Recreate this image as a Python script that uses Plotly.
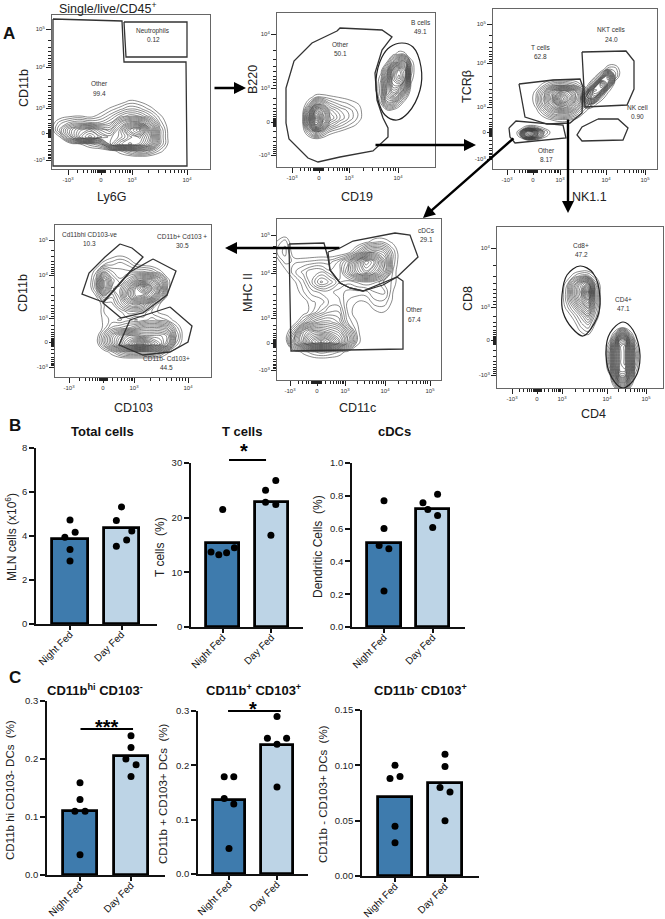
import numpy as np
import plotly.graph_objects as go

W, H = 665, 919
FONT = "Liberation Sans"

groups = ["Night Fed", "Day Fed"]

total_bars = [3.85, 4.35]
total_night_x = [1, 1.1, 0.9, 1, 1]
total_night = [4.73, 4.17, 3.94, 3.39, 2.86]
total_day_x = [2, 1.9, 2.2, 2.1, 1.9]
total_day = [5.32, 4.7, 4.23, 3.82, 3.53]

tcell_bars = [15.3, 22.9]
tcell_night_x = [1, 0.76, 0.92, 1.08, 1.24]
tcell_night = [21.5, 13.7, 13.2, 13.6, 14.5]
tcell_day_x = [2.09, 1.88, 1.88, 2.09, 1.99]
tcell_day = [26.8, 25.0, 22.8, 22.4, 16.8]

cdc_bars = [0.515, 0.72]
cdc_night_x = [1, 1, 0.9, 1.1, 1]
cdc_night = [0.77, 0.60, 0.497, 0.477, 0.22]
cdc_day_x = [1.8, 1.9, 2.1, 2.1, 2]
cdc_day = [0.757, 0.717, 0.81, 0.68, 0.607]

hi_bars = [0.11, 0.205]
hi_night_x = [1, 1, 0.9, 1.1, 1]
hi_night = [0.159, 0.13, 0.11, 0.11, 0.035]
hi_day_x = [2, 2, 1.9, 2.1, 2]
hi_day = [0.24, 0.22, 0.20, 0.19, 0.17]

pos_bars = [0.136, 0.238]
pos_night_x = [0.9, 1.1, 0.9, 1.1, 1]
pos_night = [0.179, 0.179, 0.139, 0.129, 0.047]
pos_day_x = [2, 1.8, 2.2, 2, 2]
pos_day = [0.29, 0.25, 0.25, 0.239, 0.16]

neg_bars = [0.071, 0.0837]
neg_night_x = [1, 0.9, 1.1, 1, 1]
neg_night = [0.10, 0.088, 0.09, 0.045, 0.030]
neg_day_x = [2, 2, 1.9, 2.1, 2]
neg_day = [0.11, 0.099, 0.08, 0.076, 0.05]

# ---- flow panels: gates and density grids are in picture coordinates,
# each panel axis is ranged to its own box
ly6g_other = [[53, 122, 124, 186, 187, 53, 53], [19, 21, 62, 62, 166, 166, 19]]
ly6g_neut = [[124, 187, 187, 126, 124], [22, 22, 57, 57, 22]]
ly6g_x = [50, 60, 70, 80, 90, 100, 110, 120, 130, 140, 150, 160, 170]
ly6g_y = [95, 102, 109, 116, 123, 130, 137, 144, 151, 158]
ly6g_z = [
    [0, 0, 0, 0, 0, 0, 0, 0, 0, 0, 0, 0, 0],
    [0, 0, 0, 0, 0, 0, 0, .6, 1.3, 1, .3, 0, 0],
    [0, 0, 0, 0, 0, .3, 1.2, 2, 2.8, 2.4, 1.4, .3, 0],
    [0, .4, .8, 1, .6, 1.4, 2.5, 4, 5, 4.5, 3, 1.2, 0],
    [.2, 2, 3, 3.5, 3, 3, 4, 7, 9, 9, 6, 2, .2],
    [0, 3, 6, 8, 9, 7, 6, 9, 13, 15, 9, 3, .3],
    [0, 1, 5, 9, 11, 9, 8, 9, 11, 12, 9, 3, .4],
    [0, 0, .4, 1, 2, 3, 8, 11, 12, 11, 8, 3, .4],
    [0, 0, 0, 0, 0, 0, .3, 1.5, 3, 4, 3, 1.3, .2],
    [0, 0, 0, 0, 0, 0, 0, 0, 0, 0, 0, 0, 0],
]

b220_other = [[337, 312, 294, 286, 286, 289, 308, 318, 340, 373, 388, 388, 383, 377, 375, 382, 392, 382, 340, 337],
              [31, 43, 61, 88, 123, 139, 158, 162, 157, 151, 137, 128, 118, 100, 73, 50, 37, 30, 28, 31]]
b220_bcells = [[402, 413, 421, 420, 408, 397, 385, 378, 376, 382, 390, 402],
               [43, 47, 67, 90, 113, 120, 115, 100, 80, 57, 47, 43]]
b220_x = [302, 309, 316, 323, 330, 340, 350, 360, 368]
b220_y = [90, 97, 104, 111, 118, 125, 132, 139, 146]
b220_z = [
    [0, 0, 0, 0, 0, 0, 0, 0, 0],
    [0, .5, 1.5, 1.5, 1.2, .9, .6, .2, 0],
    [0, 2, 6, 5, 3, 2, 1.5, .9, 0],
    [.2, 5, 12, 9, 5, 3.5, 2.5, 1.2, 0],
    [.3, 7, 15, 10, 6, 4, 2.6, 1.2, 0],
    [.2, 6, 13, 8, 4, 2.5, 1.5, .6, 0],
    [0, 2.5, 5, 3, 1.5, .8, .2, 0, 0],
    [0, .2, .8, .4, 0, 0, 0, 0, 0],
    [0, 0, 0, 0, 0, 0, 0, 0, 0],
]
bcell_x = [375, 381, 387, 393, 399, 405, 411, 417]
bcell_y = [46, 54, 62, 70, 78, 86, 94, 102, 110, 118]
bcell_z = [
    [0, 0, 0, 0, 0, 0, 0, 0],
    [0, 0, 0, .6, 1.5, 1.2, 0, 0],
    [0, 0, 1, 4, 7, 7, 1.5, 0],
    [0, .6, 4, 10, 13, 11, 2, 0],
    [0, 1.5, 6, 12, 14, 11, 1.5, 0],
    [0, 2, 7, 11, 11, 7, .8, 0],
    [0, 2, 7, 9, 7, 3, 0, 0],
    [0, 1.2, 5, 5, 2.5, .5, 0, 0],
    [0, .3, 1, .8, 0, 0, 0, 0],
    [0, 0, 0, 0, 0, 0, 0, 0],
]

tcr_tcells = [[519, 553, 580, 583, 582, 570, 547, 525, 519], [84, 80, 79, 87, 113, 123, 124, 117, 84]]
tcr_nkt = [[582, 626, 634, 634, 627, 585, 582], [52, 51, 61, 89, 105, 107, 52]]
tcr_nk = [[598, 618, 628, 623, 582, 577, 582, 598], [119, 119, 128, 140, 141, 135, 127, 119]]
tcr_other = [[509, 516, 563, 566, 515, 510, 509], [128, 121, 125, 138, 143, 137, 128]]
tblob_x = [528, 536, 544, 552, 560, 568, 576, 584, 592]
tblob_y = [78, 85, 92, 99, 106, 113, 120, 127]
tblob_z = [
    [0, 0, 0, 0, 0, 0, 0, 0, 0],
    [0, .3, 1.5, 3, 3.5, 3, 2, .6, 0],
    [0, 1.3, 4, 8, 11, 10, 7, 3, .4],
    [0, 1.7, 5, 9, 15, 12, 8, 4, 1],
    [0, 1.2, 4, 7, 10, 9, 6, 2.5, .6],
    [0, .4, 2, 4, 5, 5, 3, 1, .2],
    [0, 0, .3, 1, 1.3, 1.2, .6, .1, 0],
    [0, 0, 0, 0, 0, 0, 0, 0, 0],
]
nkt_x = [580, 587, 594, 601, 608, 615, 622]
nkt_y = [62, 69, 76, 83, 90, 97, 104, 111]
nkt_z = [
    [0, 0, 0, 0, 0, .2, 0],
    [0, 0, 0, 0, 2, 2, .2],
    [0, 0, .3, 3, 10, 2.5, 0],
    [0, .1, 3, 12, 8, .5, 0],
    [0, 2, 11, 10, 1.5, 0, 0],
    [.3, 7, 9, 2, .2, 0, 0],
    [.2, 3, 1.5, .2, 0, 0, 0],
    [0, 0, 0, 0, 0, 0, 0],
]
otherblob_x = [514, 520, 526, 532, 538, 544, 550, 556]
otherblob_y = [124, 128, 132, 136, 140, 144]
otherblob_z = [
    [0, 0, 0, 0, 0, 0, 0, 0],
    [0, .4, 2, 3, 1.8, .9, .5, 0],
    [0, 2, 11, 14, 7, 2.5, 1, .2],
    [0, 1.5, 9, 11, 5, 1.6, .5, 0],
    [0, 0, .6, 1, .4, 0, 0, 0],
    [0, 0, 0, 0, 0, 0, 0, 0],
]

cd103_hi = [[120, 132, 143, 103, 82, 89, 105, 120], [244, 248, 257, 302, 294, 273, 257, 244]]
cd103_pos = [[153, 176, 167, 143, 121, 103, 130, 153], [259, 271, 295, 313, 318, 303, 272, 259]]
cd103_neg = [[170, 192, 188, 170, 143, 119, 130, 170], [307, 326, 342, 352, 355, 345, 320, 307]]
cd103_x = [88, 96, 104, 112, 120, 128, 136, 144, 152, 160, 168, 176, 184, 192]
cd103_y = [248, 256, 264, 272, 280, 288, 296, 304, 312, 320, 328, 336, 344, 352, 360]
cd103_z = [
    [0, 0, 0, 0, 0, 0, 0, 0, 0, 0, 0, 0, 0, 0],
    [0, 0, 0, .7, 1, .6, 0, 0, 0, 0, 0, 0, 0, 0],
    [0, .3, 1.5, 2, 2.5, 2, 1, .5, .3, 0, 0, 0, 0, 0],
    [0, 1.5, 5, 3.5, 3, 3, 3, 3, 2.5, 1.3, .2, 0, 0, 0],
    [0, 2.5, 9, 5, 3.5, 5, 7, 8, 8, 5, 1.2, 0, 0, 0],
    [0, 2.5, 9, 4.5, 5, 8, 12, 15, 11, 7, 1.2, 0, 0, 0],
    [0, 1, 4, 3, 5, 9, 12, 11, 9, 4.5, .5, 0, 0, 0],
    [0, .1, 1.6, 2, 4, 6, 7, 6, 3, 1, 0, 0, 0, 0],
    [0, 0, 1.6, 2, 2, 3, 3, 2.5, 1.5, .8, .5, 0, 0, 0],
    [0, 0, 1.3, 1.8, 1.5, 2, 1.5, 2, 2.5, 2, 1.5, .6, 0, 0],
    [0, 0, 1.3, 3, 3.5, 4, 5, 6, 6, 6, 5, 2, .3, 0],
    [0, .3, 3, 6, 8, 10, 10, 9, 9, 9, 8, 3, .4, 0],
    [0, .3, 3, 6, 9, 12, 15, 15, 12, 10, 7, 2, .2, 0],
    [0, 0, .4, 1.5, 3, 4, 4, 4, 4, 3, 1.2, .2, 0, 0],
    [0, 0, 0, 0, 0, 0, 0, 0, 0, 0, 0, 0, 0, 0],
]

cd11c_other = [[289, 324, 328, 330, 340, 350, 363, 383, 397, 403, 403, 291, 289],
               [244, 243, 258, 270, 283, 288, 291, 283, 277, 281, 349, 351, 244]]
cd11c_cdc = [[328, 340, 353, 395, 410, 418, 397, 383, 363, 350, 340, 330, 328],
             [252, 248, 241, 233, 235, 257, 277, 285, 291, 288, 283, 270, 252]]
cd11c_x = [276, 285, 294, 303, 312, 321, 330, 339, 348, 357, 366, 375, 384, 393, 402]
cd11c_y = [232, 242, 252, 262, 272, 282, 292, 302, 312, 322, 332, 342, 352, 362]
cd11c_z = [
    [0, 0, 0, 0, 0, 0, 0, 0, 0, 0, 0, 0, 0, 0, 0],
    [1, 2, 0, 0, 0, 0, 0, 0, 0, 0, .8, 1.5, 1.5, .8, 0],
    [1.5, 2.5, .3, 0, 0, 0, 0, 0, .5, 2.5, 5, 6, 5, 2, 0],
    [.3, 1.8, 1.5, 1.6, 1.8, 2, 2, 3, 5, 9, 13, 11, 7, 2, 0],
    [0, .6, 2, 3, 4, 4, 3, 3, 6, 9, 11, 9, 6, 1.5, 0],
    [0, 0, .8, 2, 4, 6, 5, 3.5, 3, 3.5, 4, 3.5, 2, 1.5, 0],
    [0, 0, .3, 1.5, 2.5, 3, 3, 2.5, 2, 2, 2, 2.8, 3, 1, 0],
    [0, 0, 0, .5, 1.5, 1.8, 3, 3, 1.5, 1, 1, 2, 2, .8, 0],
    [0, 0, 0, .4, 1.5, 3, 4, 4, 1.5, .4, .5, .8, 1, .4, 0],
    [0, 0, .3, 2.5, 5, 6, 6, 5, 2, 1, .2, .1, 0, 0, 0],
    [0, 0, 3, 8, 10, 10, 9, 8, 5, 1.3, 0, 0, 0, 0, 0],
    [0, 0, 5, 9, 13, 15, 13, 10, 6, 1.5, 0, 0, 0, 0, 0],
    [0, 0, .3, 1.2, 2, 2.5, 2.2, 1.6, .6, 0, 0, 0, 0, 0, 0],
    [0, 0, 0, 0, 0, 0, 0, 0, 0, 0, 0, 0, 0, 0, 0],
]

cd4_cd8gate = [[580, 593, 600, 597, 583, 572, 563, 562, 567, 580], [266, 273, 298, 318, 336, 328, 312, 295, 275, 266]]
cd4_cd4gate = [[623, 633, 640, 635, 623, 612, 606, 610, 623], [322, 330, 355, 378, 388, 378, 355, 333, 322]]
cd8_x = [560, 567, 574, 581, 588, 595, 602]
cd8_y = [268, 276, 284, 292, 300, 308, 316, 324, 332, 340]
cd8_z = [
    [0, 0, 0, 0, 0, 0, 0],
    [0, .3, 1.5, 2.5, 2.5, 1, 0],
    [0, 1.5, 5, 8, 10, 3, 0],
    [0, 2, 6, 9, 15, 4, 0],
    [0, 2, 5, 8, 11, 4, 0],
    [0, 1.3, 3, 5.5, 8, 3, 0],
    [0, .3, 1.5, 3, 5, 2, 0],
    [0, 0, .6, 2, 3, 1, 0],
    [0, 0, 0, 1, 1.5, .3, 0],
    [0, 0, 0, 0, 0, 0, 0],
]
cd4_x = [605, 610, 615, 620, 625, 630, 635, 640]
cd4_y = [322, 328, 334, 340, 346, 352, 358, 364, 370, 376, 382, 388, 394]
cd4_z = [
    [0, 0, 0, 0, 0, 0, 0, 0],
    [0, 0, 0, 1, 1, 0, 0, 0],
    [0, 0, 2, 6, 6, 2, 0, 0],
    [0, 1, 5, 12, 12, 5, 1, 0],
    [0, 2, 8, 14, 15, 8, 2, 0],
    [.3, 3, 9, 14, 15, 9, 3, .2],
    [.3, 3, 9, 14, 15, 9, 3, .2],
    [.2, 3, 9, 14, 15, 9, 2.5, 0],
    [0, 2, 8, 14, 14, 8, 1.5, 0],
    [0, .8, 6, 12, 12, 6, .8, 0],
    [0, 0, 3, 8, 8, 3, 0, 0],
    [0, 0, 1, 4, 4, 1, 0, 0],
    [0, 0, 0, 0, 0, 0, 0, 0],
]

M = "10<sup>%d</sup>"
N3 = "-10<sup>3</sup>"


def px(x):
    return x / W


def py(y):
    return 1 - y / H


def minor_ticks(major):
    # decade sub ticks plus the black clump round the zero channel
    out = []
    for a, b in zip(major[:-1], major[1:]):
        out += [a + (b - a) * np.log10(k) for k in range(2, 10)]
    return out


def zero_clump(zero):
    return [zero + d for d in (-4, -3, -2, -1, 0, 1, 2, 3, 4)]


fig = go.Figure()
annotations = []
shapes = []
axis_n = 0


def label(x, y, text, size=6.5, color="#333", bold=False, angle=0):
    annotations.append(dict(x=px(x), y=py(y), xref="paper", yref="paper", text=text, showarrow=False,
                            xanchor="center", yanchor="middle", textangle=angle,
                            font=dict(family=FONT, size=size, color=color, weight="bold" if bold else "normal")))


def flow_panel(box, xticks, yticks, gates, blobs, splines=()):
    global axis_n
    axis_n += 1
    n = axis_n
    left, top, right, bottom = box
    common = dict(showgrid=False, zeroline=False, showline=True, mirror=True, linecolor="#666", linewidth=1,
                  automargin=False, ticks="outside", ticklen=5, tickwidth=0.8, tickcolor="#222",
                  tickfont=dict(family=FONT, size=6, color="#333"))
    xv, xt, xzero = xticks
    yv, yt, yzero = yticks
    fig.update_layout(**{
        f"xaxis{n}": dict(domain=[px(left), px(right)], range=[left, right], anchor=f"y{n}", tickmode="array",
                          tickvals=xv, ticktext=xt,
                          minor=dict(tickvals=minor_ticks(xv) + zero_clump(xzero), ticks="outside", ticklen=3,
                                     tickwidth=0.7, tickcolor="#222"), **common),
        f"yaxis{n}": dict(domain=[py(bottom), py(top)], range=[bottom, top], anchor=f"x{n}", tickmode="array",
                          tickvals=yv, ticktext=yt,
                          minor=dict(tickvals=minor_ticks(yv) + zero_clump(yzero), ticks="outside", ticklen=3,
                                     tickwidth=0.7, tickcolor="#222"), **common),
    })
    for bx, by, bz in blobs:
        fig.add_trace(go.Contour(x=bx, y=by, z=bz, xaxis=f"x{n}", yaxis=f"y{n}", showscale=False,
                                 colorscale=[[0, "#3c3c3c"], [1, "#3c3c3c"]], autocontour=False,
                                 contours=dict(coloring="lines", start=1, end=15, size=0.6),
                                 line=dict(width=0.6, smoothing=1.3), hoverinfo="skip"))
    for g in gates:
        fig.add_trace(go.Scatter(x=g[0], y=g[1], xaxis=f"x{n}", yaxis=f"y{n}", mode="lines",
                                 line=dict(color="#333", width=1.3), hoverinfo="skip"))
    for g in splines:
        fig.add_trace(go.Scatter(x=g[0], y=g[1], xaxis=f"x{n}", yaxis=f"y{n}", mode="lines",
                                 line=dict(color="#222", width=1.2, shape="spline"), hoverinfo="skip"))


def bar_panel(left, right, top, bottom, ymax, yvals, yfmt, tick1, spacing, bars, nx, ny, dx, dy, barw=0.68,
              sig=None):
    global axis_n
    axis_n += 1
    n = axis_n
    x0 = 1 - (tick1 - left) / spacing
    x1 = 1 + (right - tick1) / spacing
    axis = dict(showgrid=False, zeroline=False, showline=True, linecolor="#111", linewidth=1.8, ticks="outside",
                automargin=False, tickwidth=1.5, tickcolor="#111", tickmode="array")
    fig.update_layout(**{
        f"xaxis{n}": dict(domain=[px(left), px(right)], range=[x0, x1], anchor=f"y{n}", tickvals=[1, 2],
                          ticktext=groups, tickangle=-45, ticklen=4, ticklabelstandoff=-5,
                          tickfont=dict(family=FONT, size=10, color="#111"), **axis),
        f"yaxis{n}": dict(domain=[py(bottom), py(top)], range=[0, ymax], anchor=f"x{n}", tickvals=yvals,
                          ticktext=[yfmt % v for v in yvals], ticklen=5,
                          tickfont=dict(family=FONT, size=9.5, color="#222"), **axis),
    })
    fig.add_trace(go.Bar(x=[1, 2], y=bars, width=barw, xaxis=f"x{n}", yaxis=f"y{n}",
                         marker=dict(color=["#3e7bad", "#bdd4e6"], line=dict(color="#000", width=2.8))))
    fig.add_trace(go.Scatter(x=nx + dx, y=ny + dy, xaxis=f"x{n}", yaxis=f"y{n}", mode="markers", cliponaxis=False,
                             marker=dict(color="#000", size=7)))
    if sig:
        shapes.append(dict(type="line", xref=f"x{n}", yref="paper", x0=sig[0], x1=sig[1], y0=py(sig[2]), y1=py(sig[2]),
                           line=dict(color="#000", width=2)))


# ---- panel A
flow_panel((52, 15, 210, 169),
           ([68, 101, 132, 187], [N3, "0", M % 3, M % 4], 101),
           ([29, 67, 108, 133, 160], [M % 5, M % 4, M % 3, "0", N3], 133),
           [ly6g_other, ly6g_neut], [(ly6g_x, ly6g_y, ly6g_z)])
flow_panel((277, 13, 435, 167),
           ([292, 319, 349, 398], [N3, "0", M % 3, M % 4], 319),
           ([34, 88, 122, 155], [M % 4, M % 3, "0", N3], 122),
           [b220_other], [(b220_x, b220_y, b220_z), (bcell_x, bcell_y, bcell_z)], [b220_bcells])
flow_panel((493, 9, 657, 169),
           ([507, 533, 560, 606, 645], [N3, "0", M % 3, M % 4, M % 5], 533),
           ([24, 63, 107, 132, 159], [M % 5, M % 4, M % 3, "0", N3], 132),
           [tcr_tcells, tcr_nkt, tcr_nk, tcr_other],
           [(tblob_x, tblob_y, tblob_z), (nkt_x, nkt_y, nkt_z), (otherblob_x, otherblob_y, otherblob_z)])
flow_panel((55, 225, 211, 377),
           ([69, 103, 134, 188], [N3, "0", M % 3, M % 4], 103),
           ([240, 275, 318, 342, 367], [M % 5, M % 4, M % 3, "0", N3], 342),
           [cd103_hi, cd103_pos, cd103_neg], [(cd103_x, cd103_y, cd103_z)])
flow_panel((277, 219, 441, 380),
           ([290, 317, 345, 385, 430], [N3, "0", M % 3, M % 4, M % 5], 317),
           ([235, 273, 318, 343, 370], [M % 5, M % 4, M % 3, "0", N3], 343),
           [cd11c_other, cd11c_cdc], [(cd11c_x, cd11c_y, cd11c_z)])
flow_panel((497, 227, 663, 388),
           ([512, 537, 562, 607, 646], [N3, "0", M % 3, M % 4, M % 5], 537),
           ([248, 307, 340, 375], [M % 4, M % 3, "0", N3], 340),
           [], [(cd8_x, cd8_y, cd8_z), (cd4_x, cd4_y, cd4_z)], [cd4_cd8gate, cd4_cd4gate])

# gate names
for x, y, t in [(153, 31, "Neutrophils"), (153, 40, "0.12"), (99, 83, "Other"), (99, 93, "99.4"),
                (340, 44, "Other"), (340, 54, "50.1"), (421, 22, "B cells"), (421, 31, "49.1"),
                (611, 29, "NKT cells"), (611, 39, "24.0"), (540, 47, "T cells"), (540, 56, "62.8"),
                (637, 108, "NK cell"), (637, 117, "0.90"), (546, 150, "Other"), (546, 159, "8.17"),
                (89, 234, "Cd11bhi CD103-ve"), (89, 243, "10.3"), (182, 236, "CD11b+ Cd103 +"), (182, 245, "30.5"),
                (166, 358, "CD11b- Cd103+"), (166, 367, "44.5"), (426, 230, "cDCs"), (426, 239, "29.1"),
                (414, 309, "Other"), (414, 319, "67.4"), (581, 245, "Cd8+"), (581, 254, "47.2"),
                (623, 299, "CD4+"), (623, 308, "47.1")]:
    label(x, y, t)

# marker names round the dot plots
for x, y, t, a in [(111, 197, "Ly6G", 0), (24, 88, "CD11b", -90), (253, 80, "B220", -90), (357, 197, "CD19", 0),
                   (467, 87, "TCRβ", -90), (589, 197, "NK1.1", 0), (23, 293, "CD11b", -90), (133, 408, "CD103", 0),
                   (248, 293, "MHC II", -90), (357, 408, "CD11c", 0), (468, 299, "CD8", -90), (593, 414, "CD4", 0)]:
    label(x, y, t, size=12.5, color="#222", angle=a)
label(108, 8, "Single/live/CD45<sup>+</sup>", size=12.5, color="#222")

for x, y, t in [(9, 33, "A"), (15, 426, "B"), (15, 677, "C")]:
    label(x, y, t, size=17, color="#111", bold=True)

# arrows between panels: tail then head
for x0, y0, x1, y1 in [(213, 88, 246, 88), (374, 145, 476, 145), (568, 118, 568, 213), (515, 137, 423, 218),
                       (341, 248, 225, 248)]:
    annotations.append(dict(x=px(x1), y=py(y1), xref="paper", yref="paper", ax=x0 - x1, ay=y0 - y1, text="",
                            showarrow=True, arrowhead=2, arrowsize=1, arrowwidth=2.4, arrowcolor="#000", standoff=0))

# ---- panel B
bar_panel(36, 157, 448, 624, 8, [0, 2, 4, 6, 8], "%d", 70, 51.5, total_bars, total_night_x, total_night, total_day_x, total_day)
bar_panel(191, 303, 463, 627, 30, [0, 10, 20, 30], "%d", 222.7, 48.7, tcell_bars, tcell_night_x, tcell_night, tcell_day_x, tcell_day,
          sig=(1.13, 1.89, 460))
bar_panel(352, 465, 463, 627, 1.0, [0, 0.2, 0.4, 0.6, 0.8, 1.0], "%.1f", 384, 48.7, cdc_bars, cdc_night_x, cdc_night, cdc_day_x, cdc_day)

# ---- panel C
bar_panel(47, 165, 701, 875, 0.3, [0, 0.1, 0.2, 0.3], "%.1f", 80, 51, hi_bars, hi_night_x, hi_night, hi_day_x, hi_day,
          sig=(1.01, 2.04, 729))
bar_panel(198, 308, 711, 874, 0.3, [0, 0.1, 0.2, 0.3], "%.1f", 229, 48, pos_bars, pos_night_x, pos_night, pos_day_x, pos_day,
          sig=(0.98, 2.08, 711))
bar_panel(362, 479, 710, 876, 0.15, [0, 0.05, 0.10, 0.15], "%.2f", 395, 50, neg_bars, neg_night_x, neg_night, neg_day_x, neg_day)

for x, y, t in [(102, 431, "Total cells"), (242, 431, "T cells"), (394, 431, "cDCs"),
                (95, 690, "CD11b<sup>hi</sup> CD103<sup>-</sup>"), (253, 690, "CD11b<sup>+</sup> CD103<sup>+</sup>"),
                (421, 690, "CD11b<sup>-</sup> CD103<sup>+</sup>")]:
    label(x, y, t, size=13, color="#111", bold=True)

for x, y, t in [(11, 537, "MLN cells (x10<sup>6</sup>)"), (160, 547, "T cells  (%)"), (318, 547, "Dendritic Cells  (%)")]:
    label(x, y, t, size=12, color="#222", angle=-90)
for x, y, t in [(10, 790, "CD11b hi CD103- DCs  (%)"), (163, 794, "CD11b + CD103+ DCs  (%)"),
                (323, 794, "CD11b - CD103+ DCs  (%)")]:
    label(x, y, t, size=11.5, color="#222", angle=-90)

for x, y, t in [(244, 451, "*"), (107, 727, "***"), (253, 709, "*")]:
    label(x, y, t, size=20, color="#000", bold=True)

fig.update_layout(width=W, height=H, margin=dict(l=0, r=0, t=0, b=0), showlegend=False, plot_bgcolor="white",
                  paper_bgcolor="white", annotations=annotations, shapes=shapes, bargap=0)
fig.write_html("out.html", config={"displayModeBar": False}, post_script="document.body.style.margin='0';")
